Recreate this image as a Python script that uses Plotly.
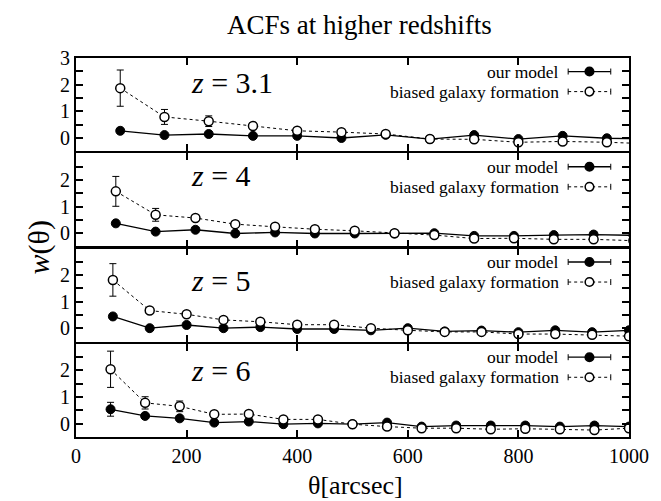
import plotly.graph_objects as go
from plotly.subplots import make_subplots

# ---------------- data ----------------
panel_labels = ["3.1", "4", "5", "6"]

theta1 = [80, 160, 240, 320, 400, 480, 560, 640, 720, 800, 880, 960, 1040]
model1 = [0.27, 0.11, 0.15, 0.08, 0.08, 0.00, 0.12, -0.04, 0.11, -0.04, 0.08, -0.01, -0.03]
model1_err = [0] * 13
biased1 = [1.87, 0.79, 0.63, 0.45, 0.27, 0.22, 0.15, -0.04, -0.05, -0.16, -0.13, -0.16, -0.22]
biased1_err = [0.68, 0.28, 0.20, 0, 0, 0, 0, 0, 0, 0, 0, 0, 0]

theta2 = [72, 144, 216, 288, 360, 432, 504, 576, 648, 720, 792, 864, 936, 1008]
model2 = [0.37, 0.06, 0.13, -0.01, 0.03, -0.01, -0.01, -0.01, 0.00, -0.10, -0.10, -0.07, -0.05, -0.08]
model2_err = [0] * 14
biased2 = [1.57, 0.69, 0.57, 0.34, 0.24, 0.15, 0.09, 0.00, -0.07, -0.20, -0.19, -0.23, -0.23, -0.28]
biased2_err = [0.56, 0.24, 0, 0, 0, 0, 0, 0, 0, 0, 0, 0, 0, 0]

theta3 = [66.7, 133.3, 200, 266.7, 333.3, 400, 466.7, 533.3, 600, 666.7, 733.3, 800, 866.7, 933.3, 1000]
model3 = [0.45, 0.01, 0.13, 0.01, 0.05, -0.02, -0.02, -0.07, 0.01, -0.11, -0.08, -0.14, -0.07, -0.14, -0.07]
model3_err = [0] * 15
biased3 = [1.82, 0.67, 0.53, 0.32, 0.25, 0.14, 0.14, 0.01, -0.07, -0.13, -0.13, -0.21, -0.21, -0.24, -0.29]
biased3_err = [0.61, 0, 0, 0, 0, 0, 0, 0, 0, 0, 0, 0, 0, 0, 0]

theta4 = [62.5, 125, 187.5, 250, 312.5, 375, 437.5, 500, 562.5, 625, 687.5, 750, 812.5, 875, 937.5, 1000]
model4 = [0.54, 0.29, 0.20, 0.04, 0.08, -0.02, 0.01, -0.02, 0.04, -0.11, -0.07, -0.07, -0.07, -0.11, -0.07, -0.11]
model4_err = [0.26, 0, 0, 0, 0, 0, 0, 0, 0, 0, 0, 0, 0, 0, 0, 0]
biased4 = [2.04, 0.78, 0.65, 0.35, 0.36, 0.16, 0.16, -0.02, -0.11, -0.17, -0.17, -0.21, -0.19, -0.21, -0.24, -0.17]
biased4_err = [0.68, 0.23, 0.20, 0, 0, 0, 0, 0, 0, 0, 0, 0, 0, 0, 0, 0]

thetas = [theta1, theta2, theta3, theta4]
models = [model1, model2, model3, model4]
model_errs = [model1_err, model2_err, model3_err, model4_err]
biaseds = [biased1, biased2, biased3, biased4]
biased_errs = [biased1_err, biased2_err, biased3_err, biased4_err]

x_ticks = [0, 200, 400, 600, 800, 1000]
y_ticks = [0, 0.5, 1, 1.5, 2, 2.5, 3]

FONT = "Liberation Serif"

# ---------------- figure ----------------
fig = make_subplots(rows=4, cols=1, shared_xaxes=True, vertical_spacing=0.005)

for i in range(4):
    r = i + 1
    fig.add_trace(go.Scatter(
        x=thetas[i], y=models[i], mode="lines+markers",
        line=dict(color="black", width=1.3),
        marker=dict(symbol="circle", size=9, color="black", line=dict(color="black", width=1)),
        error_y=dict(type="data", array=model_errs[i], color="black", thickness=1, width=3.5),
        showlegend=False), row=r, col=1)
    fig.add_trace(go.Scatter(
        x=thetas[i], y=biaseds[i], mode="lines+markers",
        line=dict(color="black", width=1, dash="dot"),
        marker=dict(symbol="circle", size=9, color="white", line=dict(color="black", width=1.5)),
        error_y=dict(type="data", array=biased_errs[i], color="black", thickness=1, width=3.5),
        showlegend=False), row=r, col=1)

    ticktext = [("%g" % v) if float(v).is_integer() else "" for v in y_ticks]
    if r != 1:
        ticktext = [t if t != "3" else "" for t in ticktext]
    fig.update_yaxes(range=[-0.5, 3], tickvals=y_ticks, ticktext=ticktext,
                     ticks="inside", ticklen=7, tickwidth=1.5, tickcolor="black",
                     showline=True, linewidth=2, linecolor="black", mirror="ticks",
                     showgrid=False, zeroline=False,
                     tickfont=dict(family=FONT, size=20, color="black"),
                     row=r, col=1)
    fig.update_xaxes(range=[0, 1000], tickvals=x_ticks,
                     ticks="inside", ticklen=7, tickwidth=1.5, tickcolor="black",
                     showline=True, linewidth=2, linecolor="black", mirror="ticks",
                     showgrid=False, zeroline=False,
                     tickfont=dict(family=FONT, size=20, color="black"),
                     row=r, col=1)

    xd = "x domain" if r == 1 else "x%d domain" % r
    yd = "y domain" if r == 1 else "y%d domain" % r

    # panel label
    zy = [0.735, 0.765, 0.655, 0.71][i]
    fig.add_annotation(xref=xd, yref=yd, x=0.205, y=zy, xanchor="left", yanchor="middle",
                       text="<i>z</i> = " + panel_labels[i], showarrow=False,
                       font=dict(family=FONT, size=30, color="black"))

    # legend
    row_y = [0.855, 0.64]
    labels = ["our model", "biased galaxy formation"]
    for k in range(2):
        yy = row_y[k]
        fig.add_annotation(xref=xd, yref=yd, x=0.877, y=yy, xanchor="right", yanchor="middle",
                           text=labels[k], showarrow=False,
                           font=dict(family=FONT, size=17.5, color="black"))
        fig.add_shape(type="line", xref=xd, yref=yd, x0=0.89, x1=0.967, y0=yy, y1=yy,
                      line=dict(color="black", width=1.3 if k == 0 else 1,
                                dash="solid" if k == 0 else "dot"))
        for cx in (0.89, 0.967):
            fig.add_shape(type="line", xref=xd, yref=yd, x0=cx, x1=cx,
                          ysizemode="pixel", yanchor=yy, y0=-3, y1=3,
                          line=dict(color="black", width=1))
        fig.add_shape(type="circle", xref=xd, yref=yd,
                      xsizemode="pixel", ysizemode="pixel",
                      xanchor=0.9285, yanchor=yy, x0=-4.3, x1=4.3, y0=-4.3, y1=4.3,
                      fillcolor="black" if k == 0 else "white",
                      line=dict(color="black", width=1.5))

fig.add_annotation(xref="paper", yref="paper", x=0.512, y=1.132, xanchor="center", yanchor="top",
                   text="ACFs at higher redshifts", showarrow=False,
                   font=dict(family=FONT, size=27, color="black"))
fig.add_annotation(xref="paper", yref="paper", x=0.505, y=-0.128, xanchor="center", yanchor="middle",
                   text="θ[arcsec]", showarrow=False,
                   font=dict(family=FONT, size=26, color="black"))
fig.add_annotation(xref="paper", yref="paper", x=-0.067, y=0.5, xanchor="center", yanchor="middle",
                   text="<i>w</i>(θ)", textangle=-90, showarrow=False,
                   font=dict(family=FONT, size=30, color="black"))

fig.update_layout(width=661, height=501, margin=dict(l=68, r=40, t=50, b=72),
                  paper_bgcolor="white", plot_bgcolor="white",
                  font=dict(family=FONT, color="black"))

fig.write_html("out.html")
